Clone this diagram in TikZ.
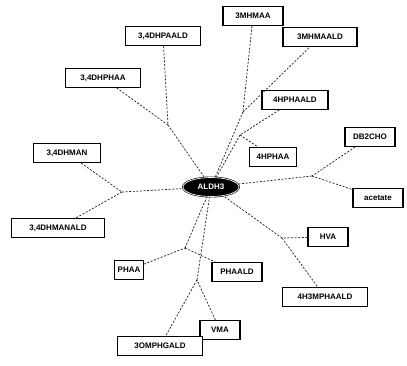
\documentclass[tikz,border=0pt]{standalone}
\usepackage{fontspec}
\setmainfont{Liberation Sans}
\usetikzlibrary{shapes.geometric}
\begin{document}
\begin{tikzpicture}[x=1pt,y=-1pt,
  met/.style={draw=black, line width=1.2pt, fill=white,
    font=\fontsize{8}{9}\selectfont\bfseries, inner xsep=3pt, inner ysep=2pt,
    minimum height=19pt},
  enz/.style={ellipse, fill=black, draw=black, line width=0.6pt,
    double=white, double distance=0.7pt, text=white,
    font=\fontsize{8}{9}\selectfont\bfseries, minimum width=56pt,
    minimum height=19pt, inner sep=0pt},
  link/.style={draw=black!85, line width=0.75pt, dash pattern=on 2pt off 1.6pt}]
\useasboundingbox (0,0) rectangle (407,365);

% enzyme
\node[enz] (c) at (211,187) {ALDH3};

% metabolites
\node[met, minimum width=75pt] (n1)  at (163,36)  {3,4DHPAALD};
\node[met, minimum width=60pt] (n2)  at (253,16)  {3MHMAA};
\node[met, minimum width=74pt] (n3)  at (320,37)  {3MHMAALD};
\node[met, minimum width=75pt] (n4)  at (103,78)  {3,4DHPHAA};
\node[met, minimum width=66pt] (n5)  at (295,100) {4HPHAALD};
\node[met, minimum width=47pt] (n6)  at (273,157) {4HPHAA};
\node[met, minimum width=50pt] (n7)  at (370,137) {DB2CHO};
\node[met, minimum width=50pt] (n8)  at (378,198) {acetate};
\node[met, minimum width=67pt] (n9)  at (67,153)  {3,4DHMAN};
\node[met, minimum width=93pt] (n10) at (58,228)  {3,4DHMANALD};
\node[met, minimum width=40pt] (n11) at (328,237) {HVA};
\node[met, minimum width=85pt] (n12) at (325,297) {4H3MPHAALD};
\node[met, minimum width=24pt] (n13) at (129,270) {PHAA};
\node[met, minimum width=50pt] (n14) at (237,272) {PHAALD};
\node[met, minimum width=40pt] (n15) at (220,330) {VMA};
\node[met, minimum width=85pt] (n16) at (160,346) {3OMPHGALD};

% reaction points
\coordinate (r1) at (168,125);
\coordinate (r2) at (243,112);
\coordinate (r3) at (240,135);
\coordinate (r4) at (312,176);
\coordinate (r5) at (122,192);
\coordinate (r6) at (282,238);
\coordinate (r7) at (185,248);
\coordinate (r8) at (197,280);

% reactions: substrate -- point -- product, point -- enzyme
\foreach \r/\a/\b in {r1/n1/n4, r2/n2/n3, r3/n5/n6, r4/n7/n8,
                      r5/n9/n10, r6/n11/n12, r7/n13/n14, r8/n15/n16} {
  \draw[link] (\a) -- (\r);
  \draw[link] (\r) -- (\b);
  \draw[link] (\r) -- (c);
}
\end{tikzpicture}
\end{document}
